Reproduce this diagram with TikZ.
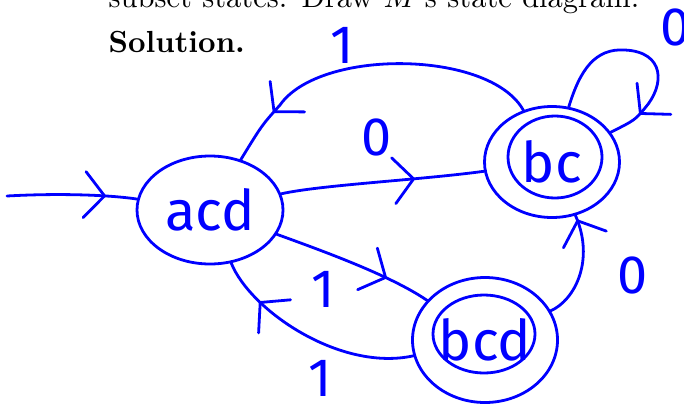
\documentclass[tikz,border=0pt]{standalone}
\usepackage{fontspec}
\newfontfamily\hand{Fira Sans}
\usetikzlibrary{shapes.geometric,arrows.meta,decorations.markings,calc}
\begin{document}
\begin{tikzpicture}[x=1pt,y=-1pt,
  ink/.style={blue, line width=2.8pt, line cap=round, line join=round},
  state/.style={ink, draw, ellipse, inner sep=0pt, text=blue, font=\hand\fontsize{56}{56}\selectfont},
  lbl/.style={text=blue, inner sep=0pt, font=\hand\fontsize{54}{54}\selectfont},
  conn/.style={ink, draw, postaction={decorate}, decoration={markings, mark=at position #1 with {\arrow[line width=2.8pt]{Straight Barb[length=20pt,width=46pt,line width=2.8pt,round]}}}},
  doc/.style={anchor=base west, inner sep=0pt, scale=3.05}
]
\useasboundingbox (0,0) rectangle (684,405);

% document text
\node[doc] (prob) at (108,7) {\hbox to 174pt{subset states. Draw $M$'s state diagram.}};
\node[doc] (sol) at (108,52) {\textbf{Solution.}};

% states
\node[state, minimum width=146pt, minimum height=108pt] (acd) at (210,210) {acd};
\node[state, minimum width=135pt, minimum height=111pt] (bc) at (552,162) {bc};
\node[state, minimum width=145pt, minimum height=125pt] (bcd) at (485,340) {bcd};
\draw[ink] ($(bc)+(3,-5)$) ellipse [x radius=47, y radius=41];
\draw[ink] ($(bcd)+(-1,-6)$) ellipse [x radius=51, y radius=39];

% start arrow
\coordinate (s0) at (7,196);
\draw[conn=0.76] (s0) .. controls (60,193) and (110,195) .. (acd);

% transitions
\draw[conn=0.66] (acd) .. controls (320,185) and (420,180) .. (bc);
\draw[conn=0.83] (bc) .. controls (490,50) and (320,48) .. (280,105) .. controls (262,125) .. (acd);
\draw[conn=0.84] (bc) .. controls (580,70) and (595,48) .. (625,50) .. controls (665,52) and (665,85) .. (645,108) .. controls (635,120) .. (bc);
\draw[conn=0.96] (bcd) .. controls (575,300) and (595,260) .. (bc);
\draw[conn=0.72] (acd) .. controls (320,250) and (390,275) .. (bcd);
\draw[conn=0.78] (bcd) .. controls (340,372) and (250,310) .. (acd);

% labels
\node[lbl] (l1) at (342,45) {1};
\node[lbl] (l2) at (377,137) {0};
\node[lbl] (l3) at (676,27) {0};
\node[lbl] (l4) at (633,275) {0};
\node[lbl] (l5) at (323,289) {1};
\node[lbl] (l6) at (320,378) {1};
\end{tikzpicture}
\end{document}
